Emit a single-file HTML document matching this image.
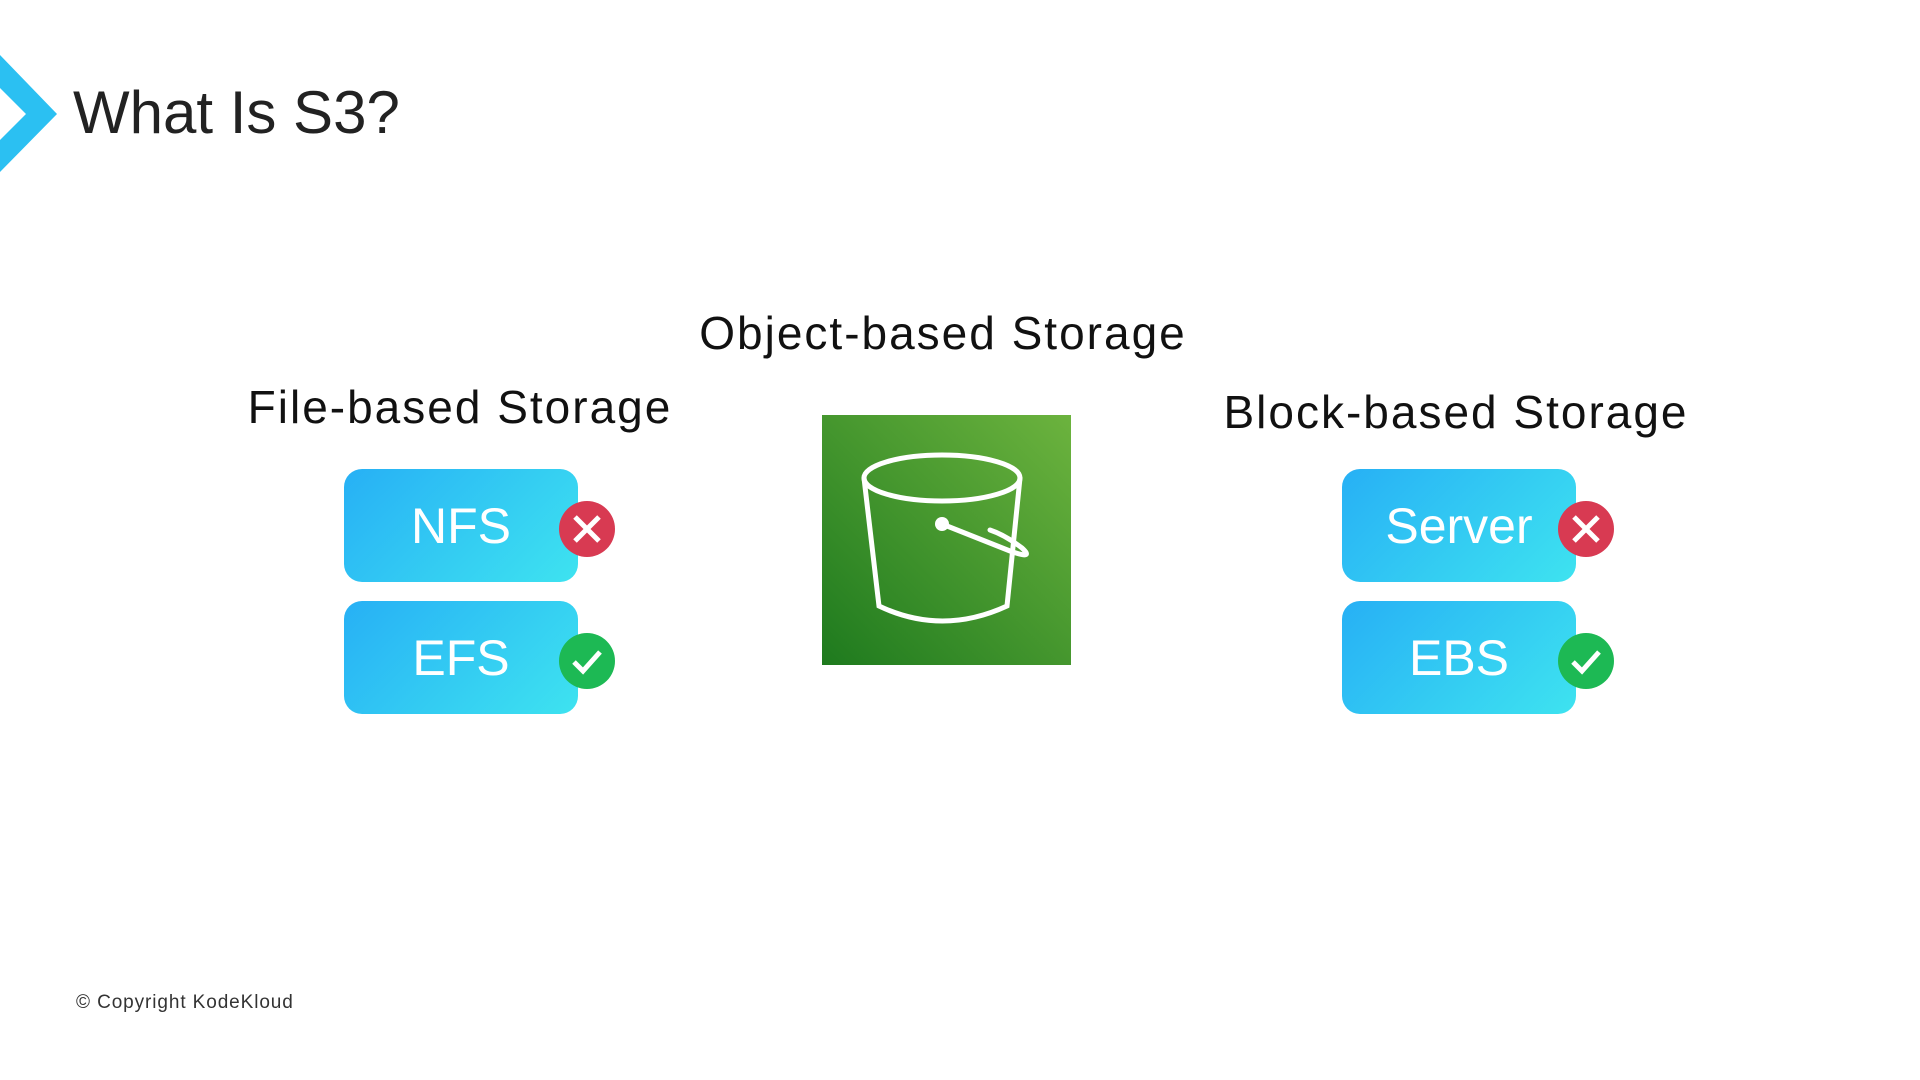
<!DOCTYPE html>
<html><head><meta charset="utf-8"><style>
body{margin:0;width:1920px;height:1080px;background:#fff;position:relative;overflow:hidden;font-family:"Liberation Sans",sans-serif;}
.t{position:absolute;white-space:nowrap;color:#111;}
.h{letter-spacing:2px;}
.box{position:absolute;width:234px;height:113px;border-radius:18px;background:linear-gradient(135deg,#27b0f5,#3ee3f0);color:#fff;font-size:50px;display:flex;align-items:center;justify-content:center;}
</style></head><body>
<svg style="position:absolute;left:0;top:0" width="80" height="180"><polygon points="0,55 57,114 0,172 0,140 26,114 0,88" fill="#2bc0f2"/></svg>
<div class="t" style="left:73px;top:78px;font-size:60px;color:#222">What Is S3?</div>
<div class="t h" style="left:943px;top:306px;font-size:46px;transform:translateX(-50%)">Object-based Storage</div>
<div class="t h" style="left:460px;top:380px;font-size:46px;transform:translateX(-50%)">File-based Storage</div>
<div class="t h" style="left:1456px;top:385px;font-size:46px;transform:translateX(-50%)">Block-based Storage</div>
<div class="box" style="left:344px;top:469px">NFS</div>
<div class="box" style="left:344px;top:601px">EFS</div>
<div class="box" style="left:1342px;top:469px">Server</div>
<div class="box" style="left:1342px;top:601px">EBS</div>
<svg style="position:absolute;left:0;top:0" width="1920" height="1080">
<defs><linearGradient id="g" x1="0" y1="1" x2="1" y2="0"><stop offset="0" stop-color="#1e7a1e"/><stop offset="1" stop-color="#6cb33e"/></linearGradient></defs>
<rect x="822" y="415" width="249" height="250" fill="url(#g)"/>
<g fill="none" stroke="#fff" stroke-width="5" stroke-linecap="round">
<ellipse cx="942" cy="478" rx="78" ry="23"/>
<path d="M864 478 L879 606 Q942 636 1007 606 L1020 478"/>
<path d="M942 524 L1010 551 Q1035 560 1022 548 Q1005 535 990 530"/>
</g>
<circle cx="942" cy="524" r="7" fill="#fff"/>
<g>
<circle cx="587" cy="529" r="28" fill="#d83a52"/><path d="M575 517 L599 541 M599 517 L575 541" stroke="#fff" stroke-width="5"/>
<circle cx="1586" cy="529" r="28" fill="#d83a52"/><path d="M1574 517 L1598 541 M1598 517 L1574 541" stroke="#fff" stroke-width="5"/>
<circle cx="587" cy="661" r="28" fill="#1db954"/><path d="M574 662 L583 671 L600 652" stroke="#fff" stroke-width="5" fill="none"/>
<circle cx="1586" cy="661" r="28" fill="#1db954"/><path d="M1573 662 L1582 671 L1599 652" stroke="#fff" stroke-width="5" fill="none"/>
</g>
</svg>
<div class="t" style="left:76px;top:992px;font-size:19px;color:#333;letter-spacing:0.9px">© Copyright KodeKloud</div>
</body></html>
